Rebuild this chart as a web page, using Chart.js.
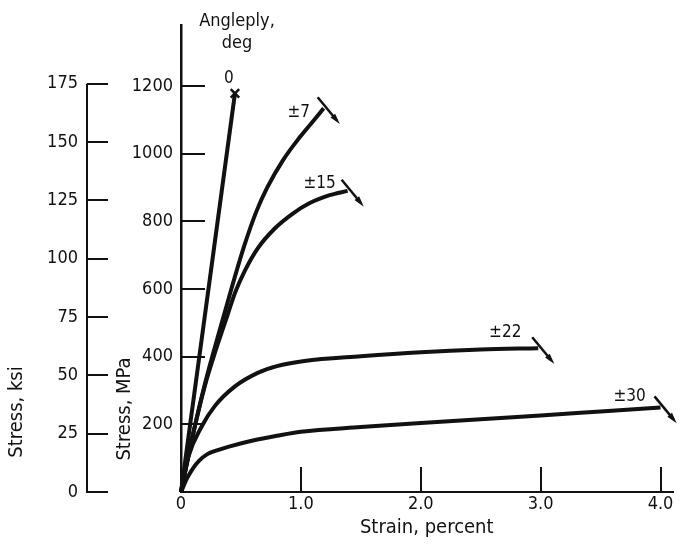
<!DOCTYPE html>
<html>
<head>
<meta charset="utf-8">
<script src="https://cdn.jsdelivr.net/npm/chart.js@4.4.0/dist/chart.umd.min.js"></script>
<style>
  html, body { margin: 0; padding: 0; background: #fff; }
</style>
</head>
<body>
<canvas id="stressChart" width="681" height="544"></canvas>
<script>
// angleply stress-strain curves (strain in percent, stress in MPa)
const angleLabels = ['0', '\u00b17', '\u00b115', '\u00b122', '\u00b130'];

const strain0 = [0, 0.45];
const stress0 = [0, 1178];

const strain7 = [0, 0.1, 0.2, 0.32, 0.42, 0.53, 0.63, 0.72, 0.85, 0.99, 1.10, 1.19];
const stress7 = [0, 170, 320, 475, 600, 730, 830, 900, 980, 1048, 1095, 1134];

const strain15 = [0, 0.1, 0.2, 0.3, 0.39, 0.45, 0.53, 0.64, 0.78, 0.93, 1.07, 1.24, 1.39];
const stress15 = [0, 170, 315, 430, 525, 588, 652, 720, 778, 822, 853, 877, 890];

const strain22 = [0, 0.06, 0.17, 0.28, 0.45, 0.64, 0.8, 1.03, 1.5, 2.0, 2.5, 2.98];
const stress22 = [0, 103, 192, 253, 312, 352, 372, 387, 401, 413, 421, 425];

const strain30 = [0, 0.05, 0.1, 0.15, 0.22, 0.3, 0.4, 0.6, 0.8, 1.0, 1.5, 2.0, 2.5, 3.0, 3.5, 4.0];
const stress30 = [0, 40, 70, 92, 112, 123, 134, 152, 166, 178, 192, 204, 215, 226, 238, 250];

const strainTicks = [0, 1, 2, 3, 4];
const mpaTicks = [200, 400, 600, 800, 1000, 1200];
const ksiTicks = [0, 25, 50, 75, 100, 125, 150, 175];

const MPA_PER_KSI = 6.894757;
const MPA_MAX = 1380;

const ink = '#111';
const font = "'DejaVu Sans Condensed', 'DejaVu Sans', sans-serif";

function toPoints(xs, ys) {
    return xs.map((x, i) => ({ x: x, y: ys[i] }));
}

const series = [
    toPoints(strain0, stress0),
    toPoints(strain7, stress7),
    toPoints(strain15, stress15),
    toPoints(strain22, stress22),
    toPoints(strain30, stress30)
];

// label offsets from the end of each curve (pixels)
const labelOffsets = [[-6, -15], [-25, 4], [-28, -7], [-33, -16], [-31, -11]];

const annotate = {
    id: 'annotate',
    afterDatasetsDraw(chart) {
        const ctx = chart.ctx;
        ctx.save();
        ctx.fillStyle = ink;
        ctx.strokeStyle = ink;
        ctx.textAlign = 'center';
        ctx.textBaseline = 'middle';

        series.forEach((pts, i) => {
            const meta = chart.getDatasetMeta(i);
            const end = meta.data[meta.data.length - 1];
            ctx.font = '17px ' + font;
            ctx.fillText(angleLabels[i], end.x + labelOffsets[i][0], end.y + labelOffsets[i][1]);
            if (i === 0) return;
            // failure mark with small arrow
            const x1 = end.x - 6, y1 = end.y - 11, x2 = end.x + 13, y2 = end.y + 12;
            ctx.lineWidth = 2.5;
            ctx.beginPath();
            ctx.moveTo(x1, y1);
            ctx.lineTo(x2, y2);
            ctx.stroke();
            const len = Math.hypot(x2 - x1, y2 - y1);
            const ux = (x2 - x1) / len, uy = (y2 - y1) / len;
            ctx.beginPath();
            ctx.moveTo(x2 + ux * 5, y2 + uy * 5);
            ctx.lineTo(x2 - ux * 6 - uy * 3, y2 - uy * 6 + ux * 3);
            ctx.lineTo(x2 - ux * 6 + uy * 3, y2 - uy * 6 - ux * 3);
            ctx.closePath();
            ctx.fill();
        });

        // ksi axis line, only up to its last tick
        const ksi = chart.scales.ksi;
        ctx.lineWidth = 2;
        ctx.beginPath();
        ctx.moveTo(ksi.right, ksi.getPixelForValue(0) + 1);
        ctx.lineTo(ksi.right, ksi.getPixelForValue(ksiTicks[ksiTicks.length - 1]));
        ctx.stroke();

        // header and rotated axis titles
        const area = chart.chartArea;
        ctx.font = '18px ' + font;
        ctx.fillText('Angleply,', area.left + 56, 21);
        ctx.fillText('deg', area.left + 56, 43);

        ctx.font = '20px ' + font;
        ctx.save();
        ctx.translate(17, 412);
        ctx.rotate(-Math.PI / 2);
        ctx.fillText('Stress, ksi', 0, 0);
        ctx.restore();
        ctx.save();
        ctx.translate(125, 409);
        ctx.rotate(-Math.PI / 2);
        ctx.fillText('Stress, MPa', 0, 0);
        ctx.restore();

        ctx.restore();
    }
};

const tickGrid = (len) => ({
    drawOnChartArea: false,
    drawTicks: true,
    tickLength: -len,
    lineWidth: 2,
    color: ink
});

// fixed box size and no extra label padding around the chart area
const fixBox = (w, h) => (scale) => {
    if (w) scale.width = w;
    if (h) scale.height = h;
    scale.paddingTop = 0;
    scale.paddingBottom = 0;
    scale.paddingLeft = 0;
    scale.paddingRight = 0;
};

new Chart(document.getElementById('stressChart'), {
    type: 'scatter',
    data: {
        datasets: series.map((pts, i) => ({
            label: angleLabels[i],
            data: pts,
            showLine: true,
            borderColor: ink,
            backgroundColor: ink,
            borderWidth: 4,
            cubicInterpolationMode: 'monotone',
            pointRadius: i === 0 ? pts.map((p, j) => (j === pts.length - 1 ? 6 : 0)) : 0,
            pointStyle: 'crossRot',
            pointBorderWidth: 2.5,
            pointBorderColor: ink,
            clip: false
        }))
    },
    options: {
        responsive: false,
        animation: false,
        devicePixelRatio: 1,
        layout: { padding: { left: 0, top: 25, right: 7, bottom: 0 } },
        plugins: {
            legend: { display: false },
            tooltip: { enabled: false }
        },
        scales: {
            x: {
                type: 'linear',
                position: 'bottom',
                min: 0,
                max: 4.1,
                afterBuildTicks: (scale) => { scale.ticks = strainTicks.map(v => ({ value: v })); },
                afterFit: fixBox(0, 52),
                grid: tickGrid(25),
                border: { display: true, color: ink, width: 2 },
                ticks: {
                    color: ink,
                    padding: 27,
                    maxRotation: 0,
                    font: { family: font, size: 18 },
                    callback: (v) => (v === 0 ? '0' : v.toFixed(1))
                },
                title: {
                    display: true,
                    text: 'Strain, percent',
                    color: ink,
                    font: { family: font, size: 20 },
                    padding: { top: 0, bottom: 4 }
                }
            },
            y: {
                type: 'linear',
                position: 'left',
                weight: 0,
                min: 0,
                max: MPA_MAX,
                afterBuildTicks: (scale) => { scale.ticks = mpaTicks.map(v => ({ value: v })); },
                afterFit: fixBox(94, 0),
                grid: tickGrid(24),
                border: { display: true, color: ink, width: 2.5 },
                ticks: {
                    color: ink,
                    padding: 32,
                    font: { family: font, size: 18 },
                    callback: (v) => String(v)
                }
            },
            ksi: {
                type: 'linear',
                position: 'left',
                weight: 1,
                min: 0,
                max: MPA_MAX / MPA_PER_KSI,
                afterBuildTicks: (scale) => { scale.ticks = ksiTicks.map(v => ({ value: v })); },
                afterFit: fixBox(87, 0),
                grid: tickGrid(21),
                border: { display: false },
                ticks: {
                    color: ink,
                    padding: 30,
                    font: { family: font, size: 18 },
                    callback: (v) => String(v)
                }
            }
        }
    },
    plugins: [annotate]
});
</script>
</body>
</html>
